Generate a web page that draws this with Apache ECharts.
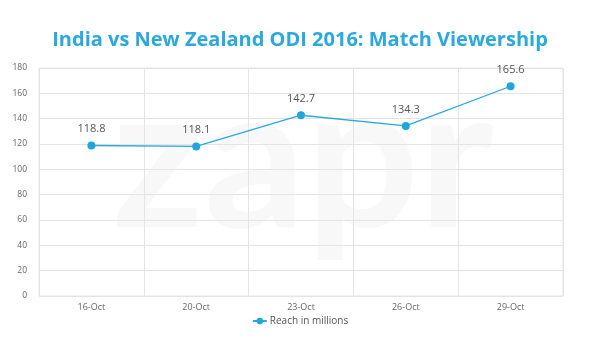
<!DOCTYPE html>
<html><head><meta charset="utf-8">
<script src="https://cdn.jsdelivr.net/npm/echarts@6/dist/echarts.min.js"></script>
<style>html,body{margin:0;padding:0;background:#fff}#c{width:600px;height:337px}</style>
</head><body><div id="c"></div>
<script>
const categories = ['16-Oct','20-Oct','23-Oct','26-Oct','29-Oct'];
const reach = [118.8, 118.1, 142.7, 134.3, 165.6];
const seriesName = 'Reach in millions';
const titleText = 'India vs New Zealand ODI 2016: Match Viewership';

const chart = echarts.init(document.getElementById('c'));
chart.setOption({
  animation: false,
  backgroundColor: '#fff',
  title: {
    text: titleText, left: 'center', top: 25,
    textStyle: {fontFamily: 'Open Sans', fontWeight: 'bold', fontSize: 20, color: '#2aa8df'}
  },
  graphic: [{
    type: 'text', left: 112, top: 62, z: 0, silent: true,
    style: {text: 'zapr', font: 'bold 200px Lato', fill: '#f8f8f8'}
  }],
  legend: {
    bottom: 6, left: 'center', itemWidth: 14, itemHeight: 8, itemGap: 4,
    textStyle: {fontFamily: 'Open Sans', fontSize: 10, color: '#555', padding: [0,0,0,-2]},
    data: [{name: seriesName}]
  },
  grid: {left: 39, right: 37, top: 68, bottom: 41, containLabel: false,
    show: true, borderColor: '#e4e4e4', borderWidth: 1},
  xAxis: {
    type: 'category', data: categories, boundaryGap: true,
    axisLine: {show: false}, axisTick: {show: false},
    splitLine: {show: true, lineStyle: {color: '#e4e4e4'}},
    axisLabel: {fontFamily: 'Open Sans', fontSize: 9, color: '#666', margin: 7}
  },
  yAxis: {
    type: 'value', min: 0, max: 180, interval: 20,
    axisLine: {show: false}, axisTick: {show: false},
    splitLine: {lineStyle: {color: '#e4e4e4'}},
    axisLabel: {fontFamily: 'Open Sans', fontSize: 8.5, color: '#666', margin: 12}
  },
  series: [{
    name: seriesName, type: 'line', data: reach,
    symbol: 'circle', symbolSize: 8,
    lineStyle: {color: '#2aa8df', width: 1.3},
    itemStyle: {color: '#1fa6df'},
    label: {show: true, position: 'top', distance: 7,
      fontFamily: 'Open Sans', fontSize: 11, color: '#555',
      formatter: p => p.value.toFixed(1)}
  }]
});
</script></body></html>
